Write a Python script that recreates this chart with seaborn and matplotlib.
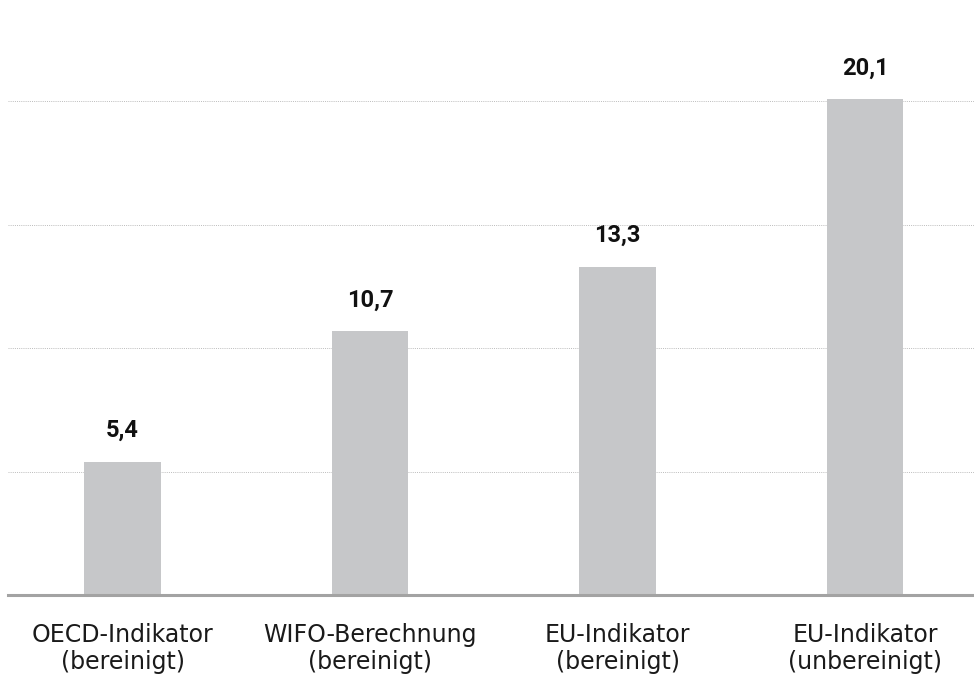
import matplotlib
matplotlib.use("Agg")
import matplotlib.pyplot as plt
import seaborn as sns
import pandas as pd

# data
categories = ["OECD-Indikator\n(bereinigt)", "WIFO-Berechnung\n(bereinigt)",
              "EU-Indikator\n(bereinigt)", "EU-Indikator\n(unbereinigt)"]
values = [5.4, 10.7, 13.3, 20.1]
grid_ticks = [5, 10, 15, 20]

sns.set_theme(style="white")
plt.rcParams['font.family'] = ['Roboto', 'DejaVu Sans']

df = pd.DataFrame({"cat": categories, "val": values})

fig = plt.figure(figsize=(9.74, 6.77), dpi=100)
ax = fig.add_axes([8/974, 82/677, 966/974, 595/677])

sns.barplot(data=df, x="cat", y="val", color="#c6c7c9", saturation=1,
            width=0.31, linewidth=0, ax=ax, zorder=2)

ax.set_ylim(0, 24.1)
ax.set_xlim(-0.463, 3.44)
ax.set_yticks(grid_ticks)
ax.set_yticklabels([])
ax.yaxis.grid(True, linestyle=(0, (1, 1.2)), color="#bcbcbc", linewidth=0.7, zorder=0)
ax.tick_params(axis="y", length=0)
ax.tick_params(axis="x", length=0, pad=20, colors="#1a1a1a")
for lbl in ax.get_xticklabels():
    lbl.set_linespacing(1.15)
    lbl.set_fontfamily(['DejaVu Sans'])
    lbl.set_fontsize(17)

for s in ["top", "right", "left"]:
    ax.spines[s].set_visible(False)
ax.spines["bottom"].set_color("#a3a3a3")
ax.spines["bottom"].set_linewidth(2.2)
ax.set_xlabel("")
ax.set_ylabel("")

ax.bar_label(ax.containers[0], labels=[f"{v:.1f}".replace(".", ",") for v in values],
             padding=14, fontsize=17, fontweight="bold", color="#111111")

fig.savefig("out.png", dpi=100)
